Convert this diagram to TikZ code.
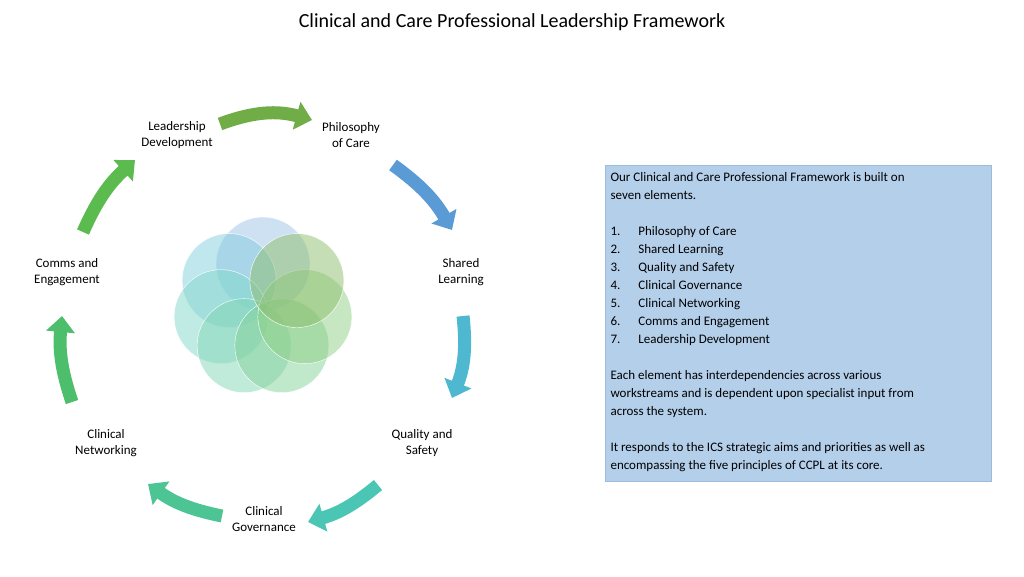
\documentclass[tikz,border=0pt]{standalone}
\usepackage{fontspec}
\setmainfont{Carlito}
\usetikzlibrary{arrows.meta}
\definecolor{boxblue}{HTML}{B4CFEA}
\definecolor{boxline}{HTML}{9DBBDD}
\definecolor{aone}{HTML}{70AD47}
\definecolor{atwo}{HTML}{5B9BD5}
\definecolor{athree}{HTML}{4DB8D0}
\definecolor{afour}{HTML}{4CC6B4}
\definecolor{afive}{HTML}{4CC493}
\definecolor{asix}{HTML}{4DBE6C}
\definecolor{aseven}{HTML}{5CBB4F}
\begin{document}
\begin{tikzpicture}
	[
	x=1pt, y=-1pt, font=\fontsize{13}{16}\selectfont,
	lbl/.style={align=center},
	blk/.style={line width=13pt, -{Triangle[width=28pt,length=16pt]}},
	bub/.style={fill=#1, fill opacity=0.5, draw=white, thin}
	]
	\useasboundingbox (0,0) rectangle (1024,576);
	
	%Titel
	\node (title) at (512,22) {\fontsize{20}{24}\selectfont Clinical and Care Professional Leadership Framework};
	
	%Beschriftungen
	\node[lbl] (phil) at (351,135) {Philosophy\\of Care};
	\node[lbl] (shared) at (461,272) {Shared\\Learning};
	\node[lbl] (quality) at (422,443) {Quality and\\Safety};
	\node[lbl] (gov) at (264,519) {Clinical\\Governance};
	\node[lbl] (net) at (106,443) {Clinical\\Networking};
	\node[lbl] (comms) at (67,272) {Comms and\\Engagement};
	\node[lbl] (lead) at (177,135) {Leadership\\Development};
	
	%Pfeile
	\draw[blk, aone] (220,124) to[bend left=18] (312,120);
	\draw[blk, atwo] (393,165) to[bend left=12] (452,230);
	\draw[blk, athree] (463,316) to[bend left=14] (452,398);
	\draw[blk, afour] (378,485) to[bend left=12] (308,522);
	\draw[blk, afive] (222,516) to[bend left=12] (148,484);
	\draw[blk, asix] (72,402) to[bend left=12] (62,316);
	\draw[blk, aseven] (83,232) to[bend left=12] (135,160);
	
	%Kreise
	\foreach \a/\c in {90/atwo!60, 38/athree!70, -13/afour!70, -64/afive!70, -116/asix!70, -167/aseven!70, 142/aone!80}
	\draw[bub=\c] (263,307) ++(\a:-43) circle (47);
	
	%Textkasten
	\node[draw=boxline, fill=boxblue, minimum width=386pt, minimum height=316pt, anchor=north west] (box) at (605,165) {};
	\node[anchor=north west, align=left, font=\fontsize{13}{18}\selectfont] (txt) at (607,169) {%
	Our Clinical and Care Professional Framework is built on\\
	seven elements.\\[18pt]
	1.\hspace{18pt}Philosophy of Care\\
	2.\hspace{18pt}Shared Learning\\
	3.\hspace{18pt}Quality and Safety\\
	4.\hspace{18pt}Clinical Governance\\
	5.\hspace{18pt}Clinical Networking\\
	6.\hspace{18pt}Comms and Engagement\\
	7.\hspace{18pt}Leadership Development\\[18pt]
	Each element has interdependencies across various\\
	workstreams and is dependent upon specialist input from\\
	across the system.\\[18pt]
	It responds to the ICS strategic aims and priorities as well as\\
	encompassing the five principles of CCPL at its core.};
\end{tikzpicture}
\end{document}
